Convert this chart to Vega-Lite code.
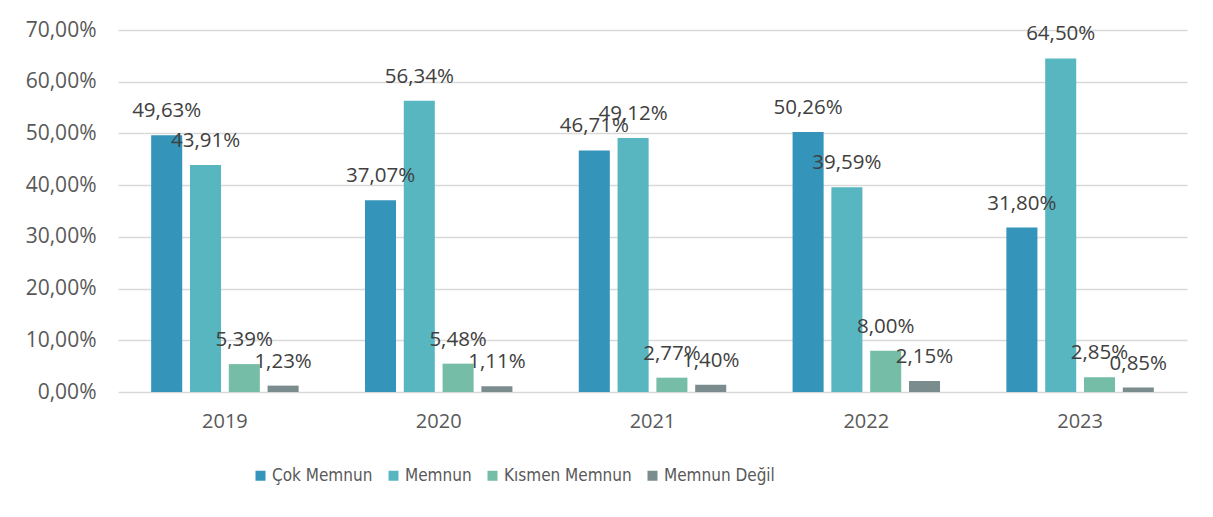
{
  "$schema": "https://vega.github.io/schema/vega-lite/v6.json",
  "autosize": {"type": "none"},
  "padding": {"left": 118, "top": 30, "right": 26, "bottom": 125},
  "width": 1069,
  "height": 362,
  "background": "white",
  "data": {
    "values": [
      {"year": "2019", "group": "Çok Memnun", "value": 0.4963},
      {"year": "2019", "group": "Memnun", "value": 0.4391},
      {"year": "2019", "group": "Kısmen Memnun", "value": 0.0539},
      {"year": "2019", "group": "Memnun Değil", "value": 0.0123},
      {"year": "2020", "group": "Çok Memnun", "value": 0.3707},
      {"year": "2020", "group": "Memnun", "value": 0.5634},
      {"year": "2020", "group": "Kısmen Memnun", "value": 0.0548},
      {"year": "2020", "group": "Memnun Değil", "value": 0.0111},
      {"year": "2021", "group": "Çok Memnun", "value": 0.4671},
      {"year": "2021", "group": "Memnun", "value": 0.4912},
      {"year": "2021", "group": "Kısmen Memnun", "value": 0.0277},
      {"year": "2021", "group": "Memnun Değil", "value": 0.0140},
      {"year": "2022", "group": "Çok Memnun", "value": 0.5026},
      {"year": "2022", "group": "Memnun", "value": 0.3959},
      {"year": "2022", "group": "Kısmen Memnun", "value": 0.0800},
      {"year": "2022", "group": "Memnun Değil", "value": 0.0215},
      {"year": "2023", "group": "Çok Memnun", "value": 0.3180},
      {"year": "2023", "group": "Memnun", "value": 0.6450},
      {"year": "2023", "group": "Kısmen Memnun", "value": 0.0285},
      {"year": "2023", "group": "Memnun Değil", "value": 0.0085}
    ]
  },
  "encoding": {
    "x": {
      "field": "year", "type": "nominal",
      "scale": {"paddingInner": 0, "paddingOuter": 0},
      "axis": {
        "title": null, "labelAngle": 0, "ticks": false, "domain": false,
        "labelFont": "Open Sans", "labelFontSize": 20, "labelColor": "#595959",
        "labelPadding": 19
      }
    },
    "xOffset": {
      "field": "group", "type": "nominal",
      "sort": ["Çok Memnun", "Memnun", "Kısmen Memnun", "Memnun Değil"],
      "scale": {"paddingInner": 0.2, "paddingOuter": 0.855}
    },
    "y": {
      "field": "value", "type": "quantitative",
      "scale": {"domain": [0, 0.7], "nice": false},
      "axis": {
        "title": null, "format": ".2%", "values": [0, 0.1, 0.2, 0.3, 0.4, 0.5, 0.6, 0.7],
        "domain": false, "ticks": false,
        "gridColor": "#d9d9d9", "gridWidth": 1.5,
        "labelFont": "Open Sans", "labelFontSize": 21, "labelColor": "#595959",
        "labelPadding": 22
      }
    }
  },
  "layer": [
    {
      "mark": {"type": "bar"},
      "encoding": {
        "color": {
          "field": "group", "type": "nominal",
          "sort": ["Çok Memnun", "Memnun", "Kısmen Memnun", "Memnun Değil"],
          "scale": {
            "domain": ["Çok Memnun", "Memnun", "Kısmen Memnun", "Memnun Değil"],
            "range": ["#3494BA", "#58B6C0", "#75BDA7", "#7A8C8E"]
          },
          "legend": {
            "title": null, "orient": "none", "direction": "horizontal",
            "legendX": 134, "legendY": 437,
            "symbolType": "square", "symbolSize": 100, "symbolStrokeWidth": 0,
            "labelFont": "'DejaVu Sans Condensed', 'Open Sans'", "labelFontSize": 17,
            "labelColor": "#595959", "labelOffset": 3, "columnPadding": 12, "padding": 0
          }
        }
      }
    },
    {
      "mark": {
        "type": "text", "baseline": "alphabetic", "dy": -18,
        "font": "Open Sans", "fontSize": 20.5, "color": "#404040"
      },
      "encoding": {
        "text": {"field": "value", "type": "quantitative", "format": ".2%"}
      }
    }
  ],
  "config": {
    "locale": {
      "number": {"decimal": ",", "thousands": ".", "grouping": [3], "currency": ["", " TL"]}
    },
    "view": {"stroke": null}
  }
}
